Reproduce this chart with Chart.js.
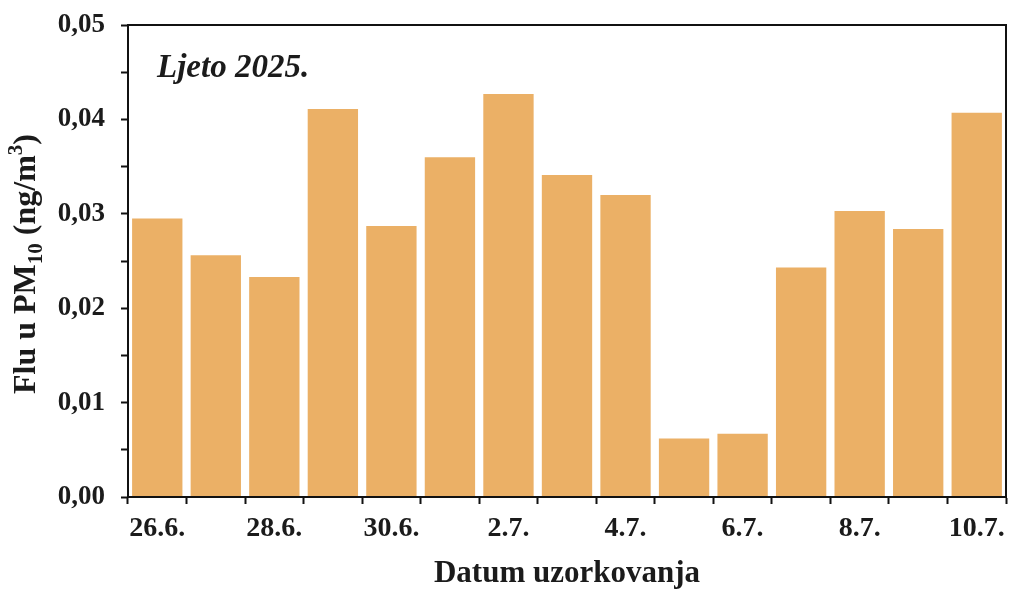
<!DOCTYPE html>
<html lang="hr">
<head>
    <meta charset="UTF-8">
    <title>Flu u PM10</title>
    <script src="https://cdn.jsdelivr.net/npm/chart.js"></script>
    <style>
        html, body { margin: 0; padding: 0; background: #fff; }
        .wrap { width: 1014px; height: 593px; }
    </style>
</head>
<body>
<div class="wrap"><canvas id="fluChart" width="1014" height="593"></canvas></div>
<script>
const datumi = ['26.6.', '27.6.', '28.6.', '29.6.', '30.6.', '1.7.', '2.7.', '3.7.',
                '4.7.', '5.7.', '6.7.', '7.7.', '8.7.', '9.7.', '10.7.'];
const fluVrijednosti = [0.0295, 0.0256, 0.0233, 0.0411, 0.0287, 0.0360, 0.0427, 0.0341,
                        0.0320, 0.0062, 0.0067, 0.0243, 0.0303, 0.0284, 0.0407];
const yMin = 0;
const yMax = 0.05;
const yKorak = 0.005;

const FONT = '"Liberation Serif", "Times New Roman", serif';
const TEXT = '#1b1b1b';

// okvir, naslov u grafu i naslov y osi (s indeksom i eksponentom)
const dodaci = {
    id: 'dodaci',
    afterDraw(chart) {
        const ctx = chart.ctx;
        const a = chart.chartArea;
        ctx.save();
        ctx.strokeStyle = '#111';
        ctx.lineWidth = 2;
        ctx.strokeRect(a.left, a.top, a.right - a.left, a.bottom - a.top);

        ctx.fillStyle = TEXT;
        ctx.font = 'italic bold 33px ' + FONT;
        ctx.textBaseline = 'alphabetic';
        ctx.fillText('Ljeto 2025.', 157, 77);

        // y naslov
        ctx.translate(35, 264);
        ctx.rotate(-Math.PI / 2);
        const big = 'bold 32px ' + FONT;
        const small = 'bold 21px ' + FONT;
        const parts = [
            ['Flu u PM', big, 0],
            ['10', small, 7],
            [' (ng/m', big, 0],
            ['3', small, -13],
            [')', big, 0]
        ];
        let w = 0;
        parts.forEach(p => { ctx.font = p[1]; w += ctx.measureText(p[0]).width; });
        let x = -w / 2;
        parts.forEach(p => {
            ctx.font = p[1];
            ctx.fillText(p[0], x, p[2]);
            x += ctx.measureText(p[0]).width;
        });
        ctx.restore();
    }
};

new Chart(document.getElementById('fluChart'), {
    type: 'bar',
    data: {
        labels: datumi,
        datasets: [{
            data: fluVrijednosti,
            backgroundColor: '#EBB066',
            borderWidth: 0,
            barPercentage: 0.86,
            categoryPercentage: 1
        }]
    },
    options: {
        responsive: false,
        animation: false,
        layout: { padding: { top: 25, right: 8, left: 0, bottom: 0 } },
        plugins: {
            legend: { display: false },
            tooltip: { enabled: false }
        },
        scales: {
            x: {
                offset: true,
                grid: { offset: true, drawOnChartArea: false, tickLength: 7, tickWidth: 2, color: '#111' },
                border: { color: '#111', width: 2 },
                ticks: {
                    autoSkip: false,
                    maxRotation: 0,
                    padding: 8,
                    color: TEXT,
                    font: { family: FONT, size: 28, weight: 'bold' },
                    callback: (v, i) => i % 2 === 0 ? datumi[i] : ''
                },
                title: {
                    display: true,
                    text: 'Datum uzorkovanja',
                    color: TEXT,
                    font: { family: FONT, size: 31, weight: 'bold' },
                    padding: { top: 4, bottom: 0 }
                },
                afterFit: s => { s.height = 96; }
            },
            y: {
                min: yMin,
                max: yMax,
                grid: { drawOnChartArea: false, tickLength: 7, tickWidth: 2, color: '#111' },
                border: { color: '#111', width: 2 },
                ticks: {
                    stepSize: yKorak,
                    padding: 16,
                    color: TEXT,
                    font: { family: FONT, size: 27, weight: 'bold' },
                    callback: v => Math.round(v * 1000) % 10 === 0 ? v.toFixed(2).replace('.', ',') : ''
                },
                afterFit: s => { s.width = 128; s.paddingTop = 0; s.paddingBottom = 0; }
            }
        }
    },
    plugins: [dodaci]
});
</script>
</body>
</html>
